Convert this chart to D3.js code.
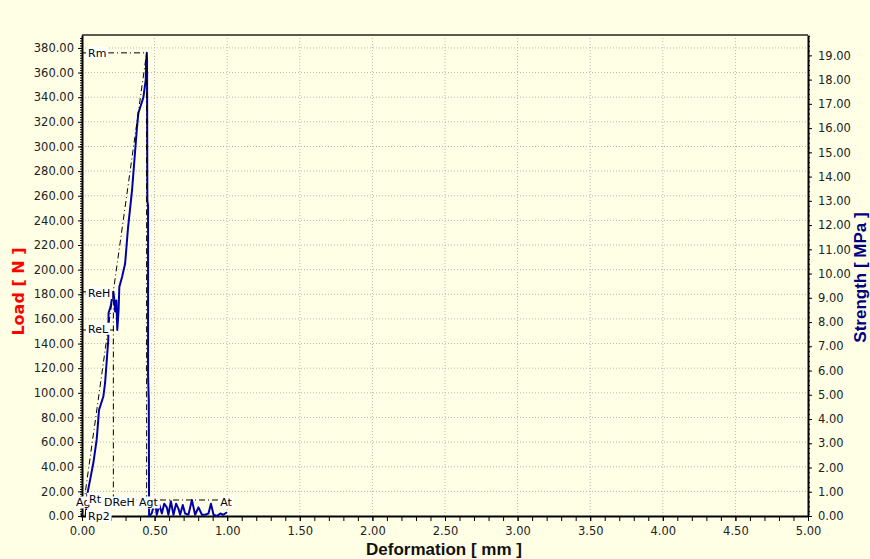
<!DOCTYPE html>
<html>
<head>
<meta charset="utf-8">
<script src="https://cdn.jsdelivr.net/npm/d3@7.9.0/dist/d3.min.js"></script>
<style>
  body { margin: 0; background: #ffffe6; }
  svg { display: block; }
  .tick text { font-family: "DejaVu Sans", sans-serif; font-size: 11.5px; fill: #222; }
  .tag text { font-family: "DejaVu Sans", sans-serif; font-size: 11px; fill: #000; }
</style>
</head>
<body>
<svg id="chart" width="870" height="559"></svg>
<script>
// load-deformation curve (mm, N)
const deformation = [0.025, 0.037, 0.060, 0.078, 0.101, 0.108, 0.117, 0.147, 0.159, 0.181, 0.183, 0.197, 0.207,
  0.216, 0.224, 0.228, 0.237, 0.243, 0.252, 0.257, 0.276, 0.297, 0.317, 0.338, 0.345, 0.377, 0.388, 0.423,
  0.439, 0.441, 0.446, 0.448, 0.450, 0.455, 0.455, 0.460, 0.462];
const load = [0, 18, 32, 43, 62, 72, 86, 97, 108, 143, 165, 170, 177,
  182, 174, 166, 175, 151, 167, 186, 194, 205, 234, 257, 265, 313, 327, 340,
  354, 366, 376, 370, 256, 252, 114, 94, 0];
// after break
const tailDeformation = [0.462, 0.48, 0.503, 0.515, 0.533, 0.55, 0.566, 0.584, 0.595, 0.612, 0.63, 0.648, 0.664,
  0.676, 0.694, 0.71, 0.733, 0.757, 0.779, 0.802, 0.826, 0.848, 0.871, 0.888, 0.906, 0.929, 0.952, 0.974, 0.998];
const tailLoad = [0, 2, 12, 1, 9, 2, 10, 7, 1, 12, 1, 10, 6,
  1, 9, 2, 1, 13, 1, 7, 1, 1, 2, 10, 1, 0, 2, 1, 3];

const xTicks = [0, 0.5, 1, 1.5, 2, 2.5, 3, 3.5, 4, 4.5, 5];
const loadTicks = [0, 20, 40, 60, 80, 100, 120, 140, 160, 180, 200, 220, 240, 260, 280, 300, 320, 340, 360, 380];
const strengthTicks = [0, 1, 2, 3, 4, 5, 6, 7, 8, 9, 10, 11, 12, 13, 14, 15, 16, 17, 18, 19];

// evaluation points
const rmPoint = [0.445, 376];
const rehPoint = [0.216, 182];
const relPoint = [0.243, 151];
const agtLevel = 13;
const sideNames = ['Rm', 'ReH', 'ReL', 'Rp2'];
const sideLoads = [376, 181, 152, 0];
const bottomNames = ['Ag', 'Rt', 'DReH', 'Agt', 'At'];
const bottomLeft = [-0.055, 0.035, 0.138, 0.379, 0.938];
const bottomLoads = [11, 14, 11, 11, 11];

const width = 870, height = 559;
const margin = { top: 35, right: 62, bottom: 43, left: 82 };
const svg = d3.select('#chart');

const x = d3.scaleLinear().domain([0, 5]).range([margin.left, width - margin.right]);
const yLoad = d3.scaleLinear().domain([0, 390.5]).range([height - margin.bottom, margin.top]);
const yStrength = d3.scaleLinear().domain([0, 19.84]).range([height - margin.bottom, margin.top]);

svg.append('rect').attr('width', width).attr('height', height).attr('fill', '#ffffe6');

// dotted grid
const grid = svg.append('g').attr('stroke', '#b8b8b8').attr('stroke-dasharray', '1,2');
grid.selectAll('.gx').data(xTicks.slice(1, -1)).join('line')
  .attr('x1', d => x(d)).attr('x2', d => x(d))
  .attr('y1', yLoad.range()[1]).attr('y2', yLoad.range()[0]);
grid.selectAll('.gy').data(loadTicks.slice(1)).join('line')
  .attr('x1', x.range()[0]).attr('x2', x.range()[1])
  .attr('y1', d => yLoad(d)).attr('y2', d => yLoad(d));

// frame top
svg.append('line')
  .attr('x1', x.range()[0]).attr('x2', x.range()[1])
  .attr('y1', margin.top).attr('y2', margin.top)
  .attr('stroke', '#5a5a50').attr('stroke-width', 2);

// minor ticks
svg.append('g').attr('transform', `translate(0,${yLoad(0)})`)
  .call(d3.axisBottom(x).tickValues(d3.range(0, 5.001, 0.1)).tickSize(5).tickFormat(''))
  .call(g => g.select('.domain').remove());
svg.append('g').attr('transform', `translate(${x(0)},0)`)
  .call(d3.axisLeft(yLoad).tickValues(d3.range(0, 390, 2)).tickSize(2).tickFormat(''))
  .call(g => g.select('.domain').remove());
svg.append('g').attr('transform', `translate(${x(5)},0)`)
  .call(d3.axisRight(yStrength).tickValues(d3.range(0, 19.81, 0.2)).tickSize(2).tickFormat(''))
  .call(g => g.select('.domain').remove());

// major axes
const fmt = d3.format('.2f');
svg.append('g').attr('transform', `translate(0,${yLoad(0)})`)
  .call(d3.axisBottom(x).tickValues(xTicks).tickSize(5).tickSizeOuter(0).tickPadding(6).tickFormat(fmt))
  .call(g => g.select('.domain').attr('stroke-width', 2));
svg.append('g').attr('transform', `translate(${x(0)},0)`)
  .call(d3.axisLeft(yLoad).tickValues(loadTicks).tickSize(4).tickSizeOuter(0).tickPadding(4).tickFormat(fmt))
  .call(g => g.select('.domain').attr('stroke-width', 2));
svg.append('g').attr('transform', `translate(${x(5)},0)`)
  .call(d3.axisRight(yStrength).tickValues(strengthTicks).tickSize(4).tickSizeOuter(0).tickPadding(6).tickFormat(fmt))
  .call(g => g.select('.domain').attr('stroke-width', 2));

// curve
const line = d3.line().x(d => x(d[0])).y(d => yLoad(d[1]));
const curve = deformation.map((d, i) => [d, load[i]]);
const tail = tailDeformation.map((d, i) => [d, tailLoad[i]]);
svg.append('path').datum(curve.concat(tail))
  .attr('d', line).attr('fill', 'none')
  .attr('stroke', '#0000a8').attr('stroke-width', 2).attr('stroke-linejoin', 'round');

// dash-dot evaluation lines
const dashes = svg.append('g').attr('stroke', '#000').attr('stroke-width', 1)
  .attr('stroke-dasharray', '6,3,1,3').attr('fill', 'none');
dashes.append('path').attr('d', line([[0, rmPoint[1]], rmPoint, [rmPoint[0], agtLevel]]));
dashes.append('path').attr('d', line([[0, 0], rmPoint]));
dashes.append('path').attr('d', line([[0, rehPoint[1]], rehPoint, [rehPoint[0], agtLevel]]));
dashes.append('path').attr('d', line([[0, relPoint[1]], relPoint]));
dashes.append('path').attr('d', line([[0, agtLevel], [1.0, agtLevel]]));

// tags
function tag(name, px, py) {
  const g = svg.append('g').attr('class', 'tag');
  const r = g.append('rect').attr('fill', '#fff');
  const t = g.append('text').attr('x', px + 2).attr('y', py + 4).text(name);
  const w = t.node().getComputedTextLength();
  r.attr('x', px).attr('y', py - 6).attr('width', w + 4).attr('height', 12);
}
sideNames.forEach((n, i) => tag(n, x(0) + 4, yLoad(sideLoads[i])));
bottomNames.forEach((n, i) => tag(n, x(bottomLeft[i]), yLoad(bottomLoads[i])));
svg.append('circle').attr('cx', x(0)).attr('cy', yLoad(0)).attr('r', 1.5).attr('fill', '#000');

// axis titles
svg.append('text')
  .attr('transform', `translate(24,${(margin.top + yLoad(0)) / 2 + 16}) rotate(-90)`)
  .attr('text-anchor', 'middle')
  .attr('font-family', 'DejaVu Sans, sans-serif').attr('font-weight', 'bold').attr('font-size', 16)
  .attr('fill', '#ff0000').text('Load [ N ]');
svg.append('text')
  .attr('transform', `translate(866,${(margin.top + yLoad(0)) / 2 + 2}) rotate(-90)`)
  .attr('text-anchor', 'middle')
  .attr('font-family', 'Liberation Sans, Arial, sans-serif').attr('font-weight', 'bold').attr('font-size', 17)
  .attr('fill', '#000080').text('Strength [ MPa ]');
svg.append('text')
  .attr('x', 444).attr('y', 555)
  .attr('text-anchor', 'middle')
  .attr('font-family', 'Liberation Sans, Arial, sans-serif').attr('font-weight', 'bold').attr('font-size', 17)
  .attr('fill', '#111').text('Deformation [ mm ]');
</script>
</body>
</html>
